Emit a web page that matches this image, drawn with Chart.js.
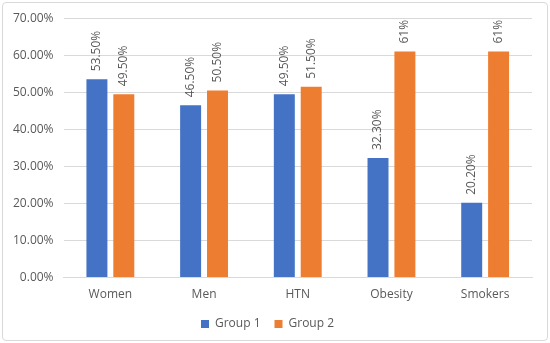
<!DOCTYPE html>
<html>
<head>
<meta charset="utf-8">
<script src="https://cdn.jsdelivr.net/npm/chart.js@4/dist/chart.umd.min.js"></script>
<style>
  html, body { margin: 0; padding: 0; background: #fff; }
  #wrap {
    position: absolute; left: 2px; top: 2px;
    width: 544px; height: 337px;
    border: 1px solid #d9d9d9; border-radius: 4px;
  }
  #chart { position: absolute; left: 0; top: -2px; }
</style>
</head>
<body>
<div id="wrap"><canvas id="chart" width="544" height="339"></canvas></div>
<script>
// Data
const categories = ['Women', 'Men', 'HTN', 'Obesity', 'Smokers'];
const group1 = [53.5, 46.5, 49.5, 32.3, 20.2];
const group2 = [49.5, 50.5, 51.5, 61, 61];
const group1Labels = ['53.50%', '46.50%', '49.50%', '32.30%', '20.20%'];
const group2Labels = ['49.50%', '50.50%', '51.50%', '61%', '61%'];

const textColor = '#595959';
const fontFamily = '"Open Sans", "Liberation Sans", sans-serif';

// rotated value labels above each bar
const barLabels = {
  id: 'barLabels',
  afterDatasetsDraw(chart) {
    const ctx = chart.ctx;
    const sets = [group1Labels, group2Labels];
    ctx.save();
    ctx.fillStyle = textColor;
    ctx.font = '12px ' + fontFamily;
    ctx.textAlign = 'left';
    ctx.textBaseline = 'middle';
    chart.data.datasets.forEach((ds, i) => {
      chart.getDatasetMeta(i).data.forEach((bar, j) => {
        ctx.save();
        ctx.translate(bar.x, bar.y - 8);
        ctx.rotate(-Math.PI / 2);
        ctx.fillText(sets[i][j], 0, 0);
        ctx.restore();
      });
    });
    ctx.restore();
  }
};

new Chart(document.getElementById('chart'), {
  type: 'bar',
  data: {
    labels: categories,
    datasets: [
      { label: 'Group 1', data: group1, backgroundColor: '#4472C4' },
      { label: 'Group 2', data: group2, backgroundColor: '#ED7D31' }
    ]
  },
  options: {
    responsive: false,
    animation: false,
    categoryPercentage: 0.574,
    barPercentage: 0.78,
    layout: { padding: { top: 4, right: 15, left: 0, bottom: 0 } },
    plugins: {
      tooltip: { enabled: false },
      legend: {
        position: 'bottom',
        labels: {
          boxWidth: 8, boxHeight: 8, padding: 14,
          color: textColor,
          font: { family: fontFamily, size: 12 }
        }
      }
    },
    scales: {
      x: {
        grid: { display: false },
        border: { color: '#d9d9d9' },
        ticks: { color: textColor, font: { family: fontFamily, size: 12 }, padding: 2 }
      },
      y: {
        min: 0, max: 70,
        ticks: {
          stepSize: 10,
          color: textColor,
          padding: 10,
          font: { family: fontFamily, size: 12 },
          callback: v => v.toFixed(2) + '%'
        },
        grid: { color: '#d9d9d9', drawTicks: false },
        border: { display: false }
      }
    }
  },
  plugins: [barLabels]
});
</script>
</body>
</html>
